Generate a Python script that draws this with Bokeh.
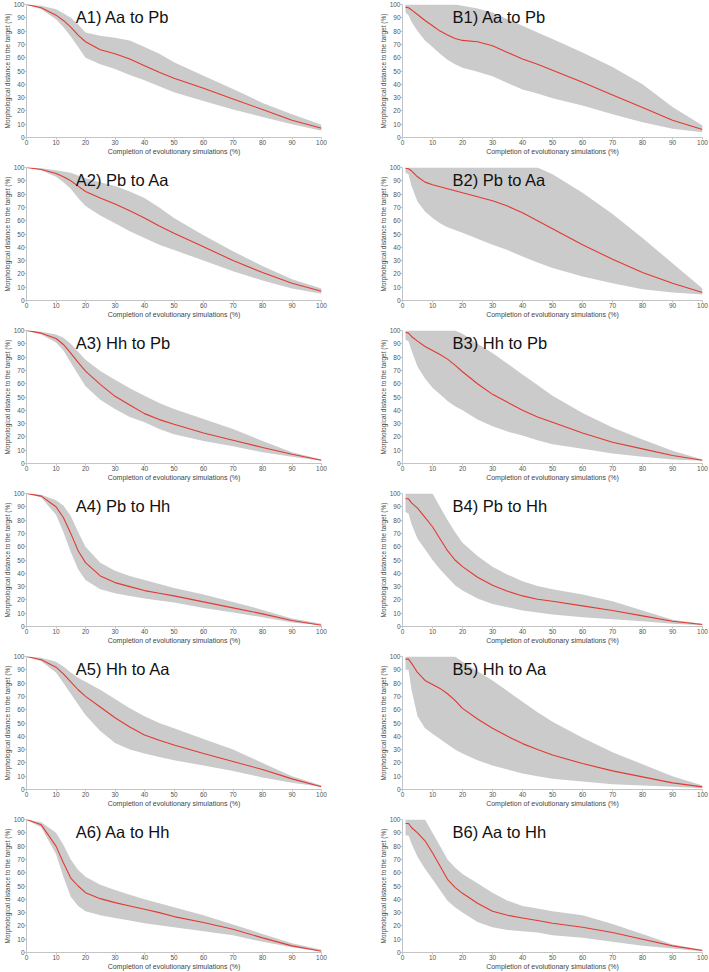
from bokeh.plotting import figure
from bokeh.layouts import column, row
from bokeh.models import Label, FixedTicker
from bokeh.embed import file_html
from bokeh.resources import INLINE

XA = [0, 5, 10, 12.5, 15, 17.5, 20, 25, 30, 35, 40, 45, 50, 60, 70, 80, 90, 100]
XB = [1, 2, 3, 5, 7.5, 10, 12.5, 15, 17.5, 20, 25, 30, 35, 40, 45, 50, 60, 70, 80, 90, 100]
TICKS = [0, 10, 20, 30, 40, 50, 60, 70, 80, 90, 100]

A1_mean = [100, 97.5, 92, 88, 83, 77, 72, 66, 63, 59, 54, 49, 44.5, 37, 29, 21, 13, 7]
A1_upper = [100, 99, 96.5, 93.5, 90, 85, 79, 76.5, 75, 73, 68, 63, 56.5, 46.5, 36.5, 26, 17.5, 9.5]
A1_lower = [100, 96.5, 89, 83, 76, 68, 60, 55, 51.5, 47, 43, 38.5, 34, 27.5, 21, 15.5, 10, 5]

B1_mean = [98, 97.5, 96, 92.5, 88, 84, 80, 77, 74.5, 73, 72, 69, 64, 59, 55, 50.5, 41.5, 32, 22.5, 13, 6]
B1_upper = [100, 100, 100, 100, 100, 100, 100, 100, 100, 99, 97, 94, 89, 84, 79, 74, 64, 53, 40, 23, 9]
B1_lower = [94, 92, 87, 80, 73, 68, 63, 58.5, 55, 52.5, 49.5, 46, 41, 36, 33, 29.5, 24, 17.5, 11.5, 6.5, 4]

A2_mean = [100, 98.5, 95.5, 93, 90, 86, 82, 77, 72.5, 67.5, 62, 56, 50.5, 40.5, 30, 21, 13, 7]
A2_upper = [100, 99.5, 98, 97, 96, 94, 92, 89, 86, 82, 77, 70, 62, 49, 37, 26, 16, 9]
A2_lower = [100, 98, 93, 89, 84, 77, 71, 64, 58, 52, 47, 42, 38, 30, 22, 15, 9, 5]

B2_mean = [99.5, 99, 97.5, 93, 89, 87, 85.5, 84, 82.5, 81, 78, 75, 71, 66, 60, 54, 42, 31, 21, 13, 6]
B2_upper = [100, 100, 100, 100, 100, 100, 100, 100, 100, 100, 100, 100, 100, 100, 100, 95, 81, 65, 47, 28, 9]
B2_lower = [96, 95, 86, 74.5, 67, 62, 58, 55, 53, 51, 46.5, 42, 38, 33, 28.5, 24.5, 18, 13, 8.5, 6, 4.5]

A3_mean = [100, 98, 94, 89.5, 83, 76, 69.5, 59.5, 50.5, 44, 37.5, 33, 29.5, 23, 17.5, 12, 7, 2.5]
A3_upper = [100, 99, 97, 94.5, 90, 84, 78, 69.5, 63, 56.5, 51, 45.5, 41, 33.5, 26, 17, 8.5, 3]
A3_lower = [100, 97, 91, 85, 76, 67, 58, 48, 41, 35, 31, 26, 22, 17, 13, 8.5, 5, 2]

B3_mean = [98.5, 98, 95.5, 92, 88, 85, 82, 78.5, 74, 69, 60, 52, 46, 40, 35, 31, 23, 16, 11, 6, 2.5]
B3_upper = [100, 100, 100, 100, 100, 100, 100, 100, 100, 97.5, 90, 83, 75, 67, 59, 51, 38, 27, 18, 9.5, 3]
B3_lower = [93, 92, 85, 73, 64, 57, 52, 47, 43, 40, 33, 28, 24, 21, 17.5, 14.5, 11, 7.5, 5, 3, 2]

A4_mean = [100, 98, 90, 82, 70, 57, 48, 38, 33, 30, 27, 25, 23, 18.5, 14, 9.5, 4.5, 1]
A4_upper = [100, 99, 95, 91, 83, 71, 60, 48, 42, 38, 35, 32, 29, 24, 18.5, 12.5, 6, 2]
A4_lower = [100, 97, 84, 71, 56, 43, 35, 28, 25, 23, 21, 19.5, 18, 14, 10.5, 7, 3, 1]

B4_mean = [96, 96, 93, 89, 82, 75, 66, 57, 50, 45, 37, 31, 26.5, 23, 20.5, 19, 15.5, 12, 8, 4, 1.5]
B4_upper = [100, 100, 100, 100, 100, 100, 90, 80, 71, 63, 53, 45, 39, 34, 30.5, 28, 24, 19, 12, 5, 2]
B4_lower = [86, 85, 77, 66, 58, 50, 43, 37, 31, 27, 21, 17, 14.5, 12, 10.5, 9, 7, 5.5, 4, 2, 1]

A5_mean = [100, 97.5, 92, 87, 81, 75, 70, 62, 54, 47, 41, 37, 33.5, 27, 21, 15, 8, 2]
A5_upper = [100, 99, 96, 92.5, 88, 84, 81, 75, 68, 61, 55, 50, 46, 38, 30, 20, 10, 3]
A5_lower = [100, 96.5, 88, 80, 72, 64, 56, 44, 35, 30, 27, 24.5, 22, 18, 14, 9, 5, 2]

B5_mean = [98, 98, 95, 88, 82, 79, 76, 72, 67, 61, 53, 46, 40, 34.5, 30, 26, 19.5, 14, 9.5, 5, 2]
B5_upper = [100, 100, 100, 100, 100, 100, 100, 100, 100, 96, 89, 82, 74, 66, 58, 51, 39, 28, 19, 10, 3]
B5_lower = [90, 90, 75, 55, 46, 42, 38, 34, 30, 27, 22, 18, 15, 12, 10, 8, 6, 4, 3, 2, 1]

A6_mean = [100, 96, 80, 67.5, 56, 50, 45, 40.5, 37.5, 35, 32.5, 30, 27, 22.5, 17.5, 11, 5, 1]
A6_upper = [100, 98, 90, 81, 70, 62, 57, 51, 47, 43.5, 40, 37, 34, 28, 21, 14, 7, 2]
A6_lower = [100, 94, 74, 57, 42, 35, 31, 28, 26, 24, 22, 20.5, 19, 16, 13, 8, 4, 1]

B6_mean = [97, 97, 94, 90, 84, 75, 65, 55, 49, 44.5, 37, 31, 28, 26, 24, 22, 19, 15, 10, 5, 1.5]
B6_upper = [100, 100, 100, 100, 100, 90, 80, 70, 64, 59, 52, 45, 39, 35, 33, 31, 28, 21.5, 14, 6, 2]
B6_lower = [88, 88, 82, 72, 63, 55, 47, 39, 34, 30, 23, 19, 17, 16, 15, 13, 11, 8, 5, 3, 1]

TITLES_A = ["A1) Aa to Pb", "A2) Pb to Aa", "A3) Hh to Pb", "A4) Pb to Hh", "A5) Hh to Aa", "A6) Aa to Hh"]
TITLES_B = ["B1) Aa to Pb", "B2) Pb to Aa", "B3) Hh to Pb", "B4) Pb to Hh", "B5) Hh to Aa", "B6) Aa to Hh"]

X_LABEL = "Completion of evolutionary simulations (%)"
Y_LABEL = "Morphological distance to the target (%)"

PANELS_A = [(A1_mean, A1_upper, A1_lower), (A2_mean, A2_upper, A2_lower), (A3_mean, A3_upper, A3_lower),
            (A4_mean, A4_upper, A4_lower), (A5_mean, A5_upper, A5_lower), (A6_mean, A6_upper, A6_lower)]
PANELS_B = [(B1_mean, B1_upper, B1_lower), (B2_mean, B2_upper, B2_lower), (B3_mean, B3_upper, B3_lower),
            (B4_mean, B4_upper, B4_lower), (B5_mean, B5_upper, B5_lower), (B6_mean, B6_upper, B6_lower)]

FONT = "Liberation Sans"


def make_panel(xs, mean, upper, lower, title, left_col, last):
    h = 158 if last else 163
    if left_col:
        w, bl, br = 354, 22, 33
    else:
        w, bl, br = 355, 48, 7
    p = figure(width=w, height=h, x_range=(0, 100), y_range=(0, 100),
               output_backend="svg", toolbar_location=None,
               min_border_left=bl, min_border_right=br,
               min_border_top=4, min_border_bottom=(21 if last else 26))
    p.varea(x=xs, y1=lower, y2=upper, fill_color="#cbcbcb", fill_alpha=1.0)
    p.line(x=xs, y=mean, line_color="#e23a32", line_width=1.1)
    p.add_layout(Label(x=16.7, y=90.5, text=title, text_font=FONT,
                       text_font_size="16.5px", text_color="#111111",
                       text_baseline="alphabetic"))
    p.xgrid.visible = False
    p.ygrid.visible = False
    p.outline_line_color = None
    p.background_fill_color = "white"
    p.border_fill_color = "white"
    for ax in (p.xaxis[0], p.yaxis[0]):
        ax.ticker = FixedTicker(ticks=TICKS)
        ax.axis_line_color = "#c4c4c4"
        ax.major_tick_line_color = "#c4c4c4"
        ax.major_tick_out = 2
        ax.major_tick_in = 0
        ax.minor_tick_line_color = None
        ax.major_label_text_font = FONT
        ax.major_label_text_font_size = "6.5px"
        ax.major_label_text_color = "#555555"
        ax.major_label_standoff = 0
        ax.axis_label_text_font = FONT
        ax.axis_label_text_font_size = "7px"
        ax.axis_label_text_font_style = "normal"
        ax.axis_label_text_color = "#444444"
        ax.axis_label_standoff = 0
    p.yaxis[0].axis_label_text_font_size = "6.5px"
    p.xaxis.axis_label = X_LABEL
    p.yaxis.axis_label = Y_LABEL
    return p


rows = []
for i in range(6):
    last = (i == 5)
    ma, ua, la = PANELS_A[i]
    mb, ub, lb = PANELS_B[i]
    pa = make_panel(XA, ma, ua, la, TITLES_A[i], True, last)
    pb = make_panel(XB, mb, ub, lb, TITLES_B[i], False, last)
    rows.append(row(pa, pb, spacing=0))

layout = column(*rows, spacing=0)

html = file_html(layout, INLINE, title="chart")
html = html.replace("<head>", "<head><style>html,body{margin:0;padding:0;background:#ffffff;}</style>", 1)
open("out.html", "w").write(html)
